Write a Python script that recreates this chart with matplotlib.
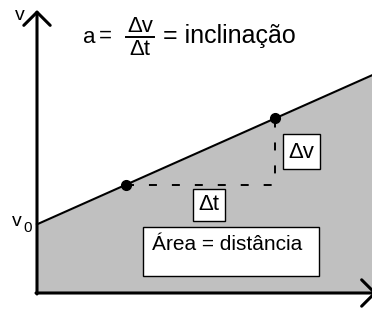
import matplotlib
matplotlib.use("Agg")
import matplotlib.pyplot as plt

# schematic v(t) line: v = v0 + a*t
t_line = [0, 2.65, 7.1, 10]
v_line = [2.05, 3.23, 5.21, 6.5]
t_pts = [2.65, 7.1]
v_pts = [3.23, 5.21]

title_num = "Δv"
title_den = "Δt"
title_right = "= inclinação"
area_label = "Área = distância"

S = 33.5  # pixels per unit


def px(x, y):
    # picture pixel -> data coordinates
    return (x - 37) / S, (293 - y) / S


def box(x0, y0, x1, y1):
    ax.add_patch(plt.Rectangle(px(x0, y1), (x1 - x0) / S, (y1 - y0) / S,
                               fc='white', ec='black', lw=1, zorder=6))


plt.rcParams['font.family'] = ['Liberation Sans', 'DejaVu Sans']

fig = plt.figure(figsize=(3.72, 3.24), dpi=100)
ax = fig.add_axes([0, 0, 1, 1])
ax.set_xlim(-37 / S, 335 / S)
ax.set_ylim(-31 / S, 293 / S)
ax.axis('off')

# shaded area under the line
ax.fill_between(t_line, v_line, 0, color='#c0c0c0', lw=0, zorder=1)
ax.plot(t_line, v_line, color='black', lw=1.5, zorder=3)

# dashed triangle
ax.plot([t_pts[0], t_pts[1], t_pts[1]], [v_pts[0], v_pts[0], v_pts[1]],
        color='black', lw=1.4, linestyle=(0, (4.1, 7.7)), zorder=2)
ax.plot(t_pts, v_pts, 'o', color='black', ms=7, zorder=4)

# axes with open arrow heads
arrow = dict(arrowstyle='->,head_length=0.95,head_width=0.95', lw=2.2,
             color='black', shrinkA=0, shrinkB=0)
ax.annotate('', xy=px(37, 10), xytext=px(37, 294), arrowprops=arrow,
            annotation_clip=False, zorder=5)
ax.annotate('', xy=px(377, 293), xytext=px(36, 293), arrowprops=arrow,
            annotation_clip=False, zorder=5)

# axis labels
ax.text(*px(20, 15), 'v', fontsize=14, ha='center', va='center')
ax.text(*px(16.5, 222), 'v', fontsize=14, ha='center', va='center')
ax.text(*px(27.5, 227.5), '0', fontsize=11, ha='center', va='center')

# slope formula
ax.text(*px(89, 37), 'a', fontsize=16, ha='center', va='center')
ax.text(*px(105, 36), '=', fontsize=16, ha='center', va='center')
ax.text(*px(140, 26), title_num, fontsize=16, ha='center', va='center')
ax.text(*px(140, 49), title_den, fontsize=16, ha='center', va='center')
ax.plot(*zip(px(126, 37), px(154, 37)), color='black', lw=1.4)
ax.text(*px(163, 36), title_right, fontsize=18, ha='left', va='center')

# boxed labels
box(283, 134, 320, 169)
ax.text(*px(301.5, 152), 'Δv', fontsize=16, ha='center', va='center', zorder=7)
box(193, 189, 225, 221)
ax.text(*px(209, 205), 'Δt', fontsize=16, ha='center', va='center', zorder=7)
box(143, 227, 319, 276)
ax.text(*px(152, 245), area_label, fontsize=15, ha='left', va='center', zorder=7)

fig.savefig('out.png', dpi=100)
